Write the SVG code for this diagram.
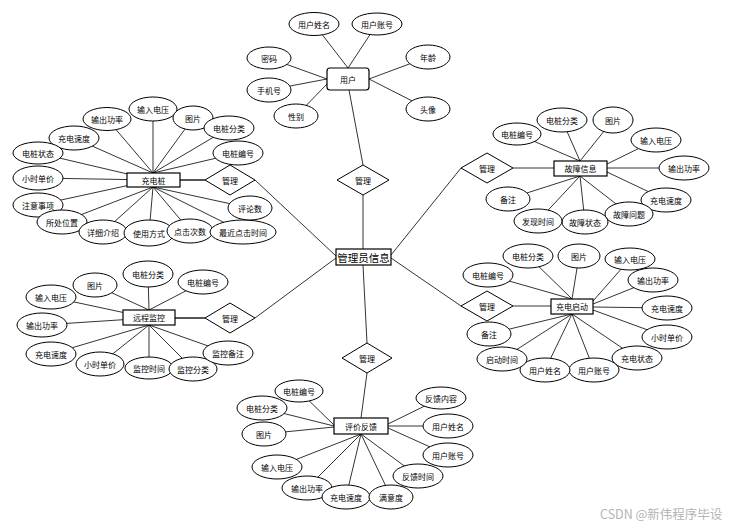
<svg xmlns="http://www.w3.org/2000/svg" width="738" height="525" viewBox="0 0 738 525">
<style>
.a ellipse{fill:#fff;stroke:#000;stroke-width:1}
.e rect{fill:#fff;stroke:#000;stroke-width:1.2}
.r polygon{fill:#fff;stroke:#000;stroke-width:1}
text{font-family:"Noto Sans CJK SC","Liberation Sans",sans-serif;font-size:8px;fill:#000;text-anchor:middle;dominant-baseline:central}
.c line{stroke:#000;stroke-width:0.8}
.c line.k{stroke:#555;stroke-width:2}
.big{font-size:10.5px}
.wm{font-size:12.5px;fill:#b4b4b4;text-anchor:start}
</style>
<rect width="738" height="525" fill="#fff"/>
<g id="connectors" class="c">
<line x1="363" y1="249" x2="363" y2="195"/>
<line x1="363" y1="165" x2="349" y2="90"/>
<line x1="336" y1="256" x2="255" y2="180"/>
<line class="k" x1="205" y1="180" x2="180" y2="180"/>
<line x1="391" y1="255" x2="461" y2="168"/>
<line x1="513" y1="168" x2="554" y2="168"/>
<line x1="391" y1="258" x2="461" y2="306"/>
<line x1="513" y1="306" x2="551" y2="306"/>
<line x1="336" y1="258" x2="255" y2="318"/>
<line class="k" x1="205" y1="318" x2="175" y2="318"/>
<line x1="363" y1="265" x2="367" y2="343"/>
<line x1="367" y1="373" x2="361" y2="418"/>
<line x1="348" y1="68" x2="314" y2="24"/>
<line x1="348" y1="68" x2="377" y2="24"/>
<line x1="327" y1="79" x2="269" y2="58"/>
<line x1="327" y1="79" x2="269" y2="90"/>
<line x1="327" y1="84" x2="296" y2="116"/>
<line x1="369" y1="79" x2="428" y2="57"/>
<line x1="369" y1="79" x2="428" y2="109"/>
<line x1="153" y1="173" x2="107" y2="119"/>
<line x1="153" y1="173" x2="153" y2="109"/>
<line x1="153" y1="173" x2="193" y2="118"/>
<line x1="153" y1="173" x2="229" y2="128"/>
<line x1="153" y1="173" x2="238" y2="153"/>
<line x1="153" y1="173" x2="74" y2="138"/>
<line x1="153" y1="180" x2="38" y2="153"/>
<line x1="153" y1="180" x2="38" y2="178"/>
<line x1="153" y1="180" x2="38" y2="205"/>
<line x1="153" y1="187" x2="62" y2="222"/>
<line x1="153" y1="187" x2="103" y2="232"/>
<line x1="153" y1="187" x2="149" y2="233"/>
<line x1="153" y1="187" x2="190" y2="231"/>
<line x1="153" y1="187" x2="243" y2="232"/>
<line x1="153" y1="187" x2="250" y2="208"/>
<line x1="580" y1="161" x2="517" y2="134"/>
<line x1="580" y1="161" x2="562" y2="120"/>
<line x1="580" y1="161" x2="613" y2="120"/>
<line x1="607" y1="164" x2="656" y2="140"/>
<line x1="607" y1="168" x2="684" y2="168"/>
<line x1="607" y1="172" x2="666" y2="200"/>
<line x1="580" y1="176" x2="629" y2="214"/>
<line x1="580" y1="176" x2="585" y2="222"/>
<line x1="580" y1="176" x2="538" y2="221"/>
<line x1="580" y1="176" x2="508" y2="199"/>
<line x1="572" y1="299" x2="488" y2="275"/>
<line x1="572" y1="299" x2="528" y2="256"/>
<line x1="572" y1="299" x2="579" y2="256"/>
<line x1="593" y1="301" x2="630" y2="259"/>
<line x1="593" y1="304" x2="653" y2="280"/>
<line x1="593" y1="307" x2="667" y2="308"/>
<line x1="593" y1="310" x2="667" y2="337"/>
<line x1="572" y1="314" x2="637" y2="358"/>
<line x1="572" y1="314" x2="594" y2="370"/>
<line x1="572" y1="314" x2="545" y2="370"/>
<line x1="572" y1="314" x2="502" y2="359"/>
<line x1="572" y1="314" x2="489" y2="334"/>
<line x1="149" y1="310" x2="95" y2="285"/>
<line x1="149" y1="310" x2="148" y2="274"/>
<line x1="149" y1="310" x2="203" y2="282"/>
<line x1="149" y1="318" x2="51" y2="297"/>
<line x1="149" y1="318" x2="42" y2="325"/>
<line x1="149" y1="325" x2="51" y2="354"/>
<line x1="149" y1="325" x2="100" y2="364"/>
<line x1="149" y1="325" x2="149" y2="368"/>
<line x1="149" y1="325" x2="193" y2="369"/>
<line x1="149" y1="325" x2="228" y2="353"/>
<line x1="334" y1="425" x2="299" y2="391"/>
<line x1="334" y1="426" x2="262" y2="408"/>
<line x1="334" y1="427" x2="264" y2="434"/>
<line x1="388" y1="424" x2="441" y2="398"/>
<line x1="388" y1="426" x2="448" y2="426"/>
<line x1="388" y1="428" x2="448" y2="455"/>
<line x1="361" y1="434" x2="277" y2="467"/>
<line x1="361" y1="434" x2="307" y2="488"/>
<line x1="361" y1="434" x2="346" y2="497"/>
<line x1="361" y1="434" x2="391" y2="497"/>
<line x1="361" y1="434" x2="418" y2="476"/>
</g>

<g id="rel-user" class="r"><polygon points="363,165 389,180 363,195 337,180"/><text x="363" y="180">管理</text></g>
<g id="rel-pile" class="r"><polygon points="230,165 255,180 230,195 205,180"/><text x="230" y="180">管理</text></g>
<g id="rel-fault" class="r"><polygon points="487,153 513,168 487,183 461,168"/><text x="487" y="168">管理</text></g>
<g id="rel-start" class="r"><polygon points="487,291 513,306 487,321 461,306"/><text x="487" y="306">管理</text></g>
<g id="rel-remote" class="r"><polygon points="230,303 255,318 230,333 205,318"/><text x="230" y="318">管理</text></g>
<g id="rel-feedback" class="r"><polygon points="367,343 392,358 367,373 342,358"/><text x="367" y="358">管理</text></g>

<g id="admin" class="e"><rect x="336" y="249" width="55" height="16" stroke-width="1.5"/><text class="big" x="363.5" y="257">管理员信息</text></g>
<g id="user" class="e"><rect x="327" y="68" width="42" height="22" rx="3"/><text x="348" y="79">用户</text></g>
<g id="pile" class="e"><rect x="127" y="173" width="53" height="14"/><text x="153.5" y="180">充电桩</text></g>
<g id="fault" class="e"><rect x="554" y="161" width="53" height="15"/><text x="580.5" y="168.5">故障信息</text></g>
<g id="start" class="e"><rect x="551" y="299" width="42" height="15"/><text x="572" y="306.5">充电启动</text></g>
<g id="remote" class="e"><rect x="123" y="310" width="52" height="15"/><text x="149" y="317.5">远程监控</text></g>
<g id="feedback" class="e"><rect x="334" y="418" width="54" height="16"/><text x="361" y="426">评价反馈</text></g>

<g id="u-name" class="a"><ellipse cx="314" cy="24" rx="25" ry="11.5"/><text x="314" y="24">用户姓名</text></g>
<g id="u-acc" class="a"><ellipse cx="377" cy="24" rx="25" ry="11"/><text x="377" y="24">用户账号</text></g>
<g id="u-pwd" class="a"><ellipse cx="269" cy="58" rx="22" ry="11"/><text x="269" y="58">密码</text></g>
<g id="u-phone" class="a"><ellipse cx="269" cy="90" rx="22" ry="12"/><text x="269" y="90">手机号</text></g>
<g id="u-sex" class="a"><ellipse cx="296" cy="116" rx="22" ry="12"/><text x="296" y="116">性别</text></g>
<g id="u-age" class="a"><ellipse cx="428" cy="57" rx="22" ry="12"/><text x="428" y="57">年龄</text></g>
<g id="u-avatar" class="a"><ellipse cx="428" cy="109" rx="22" ry="12"/><text x="428" y="109">头像</text></g>

<g id="p-out" class="a"><ellipse cx="107" cy="119" rx="24" ry="11.5"/><text x="107" y="119">输出功率</text></g>
<g id="p-in" class="a"><ellipse cx="153" cy="109" rx="24" ry="12"/><text x="153" y="109">输入电压</text></g>
<g id="p-img" class="a"><ellipse cx="193" cy="118" rx="20" ry="12"/><text x="193" y="118">图片</text></g>
<g id="p-cat" class="a"><ellipse cx="229" cy="128" rx="25" ry="12"/><text x="229" y="128">电桩分类</text></g>
<g id="p-no" class="a"><ellipse cx="238" cy="153" rx="25" ry="12"/><text x="238" y="153">电桩编号</text></g>
<g id="p-speed" class="a"><ellipse cx="74" cy="138" rx="25" ry="12"/><text x="74" y="138">充电速度</text></g>
<g id="p-state" class="a"><ellipse cx="38" cy="153" rx="25" ry="11"/><text x="38" y="153">电桩状态</text></g>
<g id="p-price" class="a"><ellipse cx="38" cy="178" rx="25" ry="12"/><text x="38" y="178">小时单价</text></g>
<g id="p-note" class="a"><ellipse cx="38" cy="205" rx="25" ry="12"/><text x="38" y="205">注意事项</text></g>
<g id="p-loc" class="a"><ellipse cx="62" cy="222" rx="25" ry="12"/><text x="62" y="222">所处位置</text></g>
<g id="p-desc" class="a"><ellipse cx="103" cy="232" rx="24" ry="12"/><text x="103" y="232">详细介绍</text></g>
<g id="p-use" class="a"><ellipse cx="149" cy="233" rx="25" ry="13"/><text x="149" y="233">使用方式</text></g>
<g id="p-clicks" class="a"><ellipse cx="190" cy="231" rx="23" ry="12"/><text x="190" y="231">点击次数</text></g>
<g id="p-recent" class="a"><ellipse cx="243" cy="232" rx="33" ry="12"/><text x="243" y="232">最近点击时间</text></g>
<g id="p-comments" class="a"><ellipse cx="250" cy="208" rx="22" ry="12"/><text x="250" y="208">评论数</text></g>

<g id="f-no" class="a"><ellipse cx="517" cy="134" rx="24" ry="11"/><text x="517" y="134">电桩编号</text></g>
<g id="f-cat" class="a"><ellipse cx="562" cy="120" rx="25" ry="12"/><text x="562" y="120">电桩分类</text></g>
<g id="f-img" class="a"><ellipse cx="613" cy="120" rx="20" ry="13"/><text x="613" y="120">图片</text></g>
<g id="f-in" class="a"><ellipse cx="656" cy="140" rx="25" ry="12"/><text x="656" y="140">输入电压</text></g>
<g id="f-out" class="a"><ellipse cx="684" cy="168" rx="25" ry="12"/><text x="684" y="168">输出功率</text></g>
<g id="f-speed" class="a"><ellipse cx="666" cy="200" rx="25" ry="12"/><text x="666" y="200">充电速度</text></g>
<g id="f-prob" class="a"><ellipse cx="629" cy="214" rx="24" ry="12"/><text x="629" y="214">故障问题</text></g>
<g id="f-state" class="a"><ellipse cx="585" cy="222" rx="23" ry="12"/><text x="585" y="222">故障状态</text></g>
<g id="f-time" class="a"><ellipse cx="538" cy="221" rx="24" ry="12"/><text x="538" y="221">发现时间</text></g>
<g id="f-note" class="a"><ellipse cx="508" cy="199" rx="22" ry="12"/><text x="508" y="199">备注</text></g>

<g id="s-no" class="a"><ellipse cx="488" cy="275" rx="25" ry="12"/><text x="488" y="275">电桩编号</text></g>
<g id="s-cat" class="a"><ellipse cx="528" cy="256" rx="25" ry="12"/><text x="528" y="256">电桩分类</text></g>
<g id="s-img" class="a"><ellipse cx="579" cy="256" rx="21" ry="12"/><text x="579" y="256">图片</text></g>
<g id="s-in" class="a"><ellipse cx="630" cy="259" rx="25" ry="11"/><text x="630" y="259">输入电压</text></g>
<g id="s-out" class="a"><ellipse cx="653" cy="280" rx="25" ry="12"/><text x="653" y="280">输出功率</text></g>
<g id="s-speed" class="a"><ellipse cx="667" cy="308" rx="25" ry="12"/><text x="667" y="308">充电速度</text></g>
<g id="s-price" class="a"><ellipse cx="667" cy="337" rx="25" ry="12"/><text x="667" y="337">小时单价</text></g>
<g id="s-state" class="a"><ellipse cx="637" cy="358" rx="25" ry="12"/><text x="637" y="358">充电状态</text></g>
<g id="s-acc" class="a"><ellipse cx="594" cy="370" rx="25" ry="12"/><text x="594" y="370">用户账号</text></g>
<g id="s-name" class="a"><ellipse cx="545" cy="370" rx="25" ry="12"/><text x="545" y="370">用户姓名</text></g>
<g id="s-time" class="a"><ellipse cx="502" cy="359" rx="25" ry="12"/><text x="502" y="359">启动时间</text></g>
<g id="s-note" class="a"><ellipse cx="489" cy="334" rx="22" ry="12"/><text x="489" y="334">备注</text></g>

<g id="r-img" class="a"><ellipse cx="95" cy="285" rx="22" ry="12"/><text x="95" y="285">图片</text></g>
<g id="r-cat" class="a"><ellipse cx="148" cy="274" rx="25" ry="13"/><text x="148" y="274">电桩分类</text></g>
<g id="r-no" class="a"><ellipse cx="203" cy="282" rx="25" ry="12"/><text x="203" y="282">电桩编号</text></g>
<g id="r-in" class="a"><ellipse cx="51" cy="297" rx="25" ry="12"/><text x="51" y="297">输入电压</text></g>
<g id="r-out" class="a"><ellipse cx="42" cy="325" rx="25" ry="12"/><text x="42" y="325">输出功率</text></g>
<g id="r-speed" class="a"><ellipse cx="51" cy="354" rx="25" ry="12"/><text x="51" y="354">充电速度</text></g>
<g id="r-price" class="a"><ellipse cx="100" cy="364" rx="24" ry="12"/><text x="100" y="364">小时单价</text></g>
<g id="r-time" class="a"><ellipse cx="149" cy="368" rx="24" ry="11"/><text x="149" y="368">监控时间</text></g>
<g id="r-cat2" class="a"><ellipse cx="193" cy="369" rx="24" ry="12"/><text x="193" y="369">监控分类</text></g>
<g id="r-note" class="a"><ellipse cx="228" cy="353" rx="25" ry="12"/><text x="228" y="353">监控备注</text></g>

<g id="b-no" class="a"><ellipse cx="299" cy="391" rx="24" ry="11"/><text x="299" y="391">电桩编号</text></g>
<g id="b-cat" class="a"><ellipse cx="262" cy="408" rx="25" ry="12"/><text x="262" y="408">电桩分类</text></g>
<g id="b-img" class="a"><ellipse cx="264" cy="434" rx="22" ry="12"/><text x="264" y="434">图片</text></g>
<g id="b-in" class="a"><ellipse cx="277" cy="467" rx="25" ry="12"/><text x="277" y="467">输入电压</text></g>
<g id="b-out" class="a"><ellipse cx="307" cy="488" rx="25" ry="12"/><text x="307" y="488">输出功率</text></g>
<g id="b-speed" class="a"><ellipse cx="346" cy="497" rx="24" ry="12"/><text x="346" y="497">充电速度</text></g>
<g id="b-sat" class="a"><ellipse cx="391" cy="497" rx="22" ry="12"/><text x="391" y="497">满意度</text></g>
<g id="b-time" class="a"><ellipse cx="418" cy="476" rx="25" ry="12"/><text x="418" y="476">反馈时间</text></g>
<g id="b-content" class="a"><ellipse cx="441" cy="398" rx="25" ry="11"/><text x="441" y="398">反馈内容</text></g>
<g id="b-name" class="a"><ellipse cx="448" cy="426" rx="25" ry="12"/><text x="448" y="426">用户姓名</text></g>
<g id="b-acc" class="a"><ellipse cx="448" cy="455" rx="25" ry="12"/><text x="448" y="455">用户账号</text></g>

<text class="wm" x="600" y="513">CSDN @新伟程序毕设</text>
</svg>
